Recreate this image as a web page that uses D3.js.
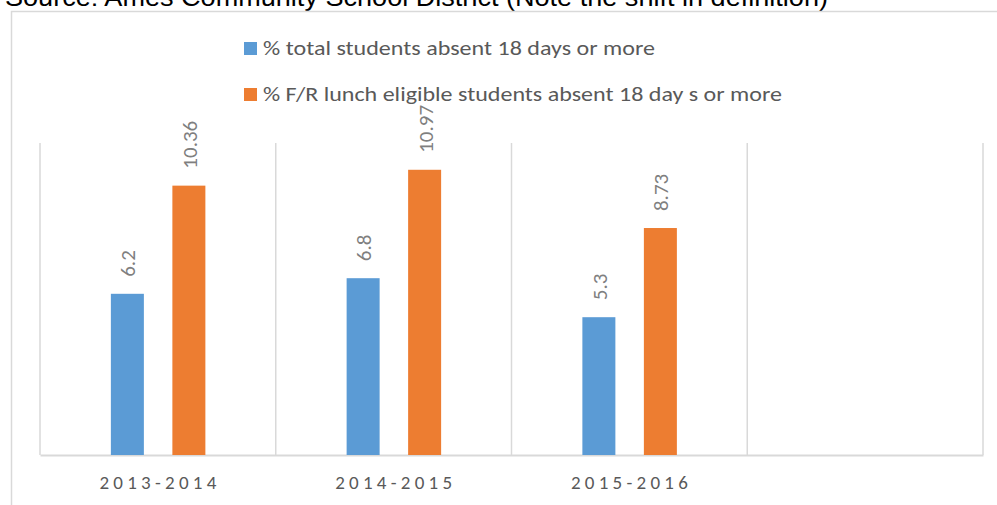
<!DOCTYPE html>
<html>
<head>
<meta charset="utf-8">
<script src="https://cdn.jsdelivr.net/npm/d3@7"></script>
<style>
  body { margin: 0; background: #fff; overflow: hidden; }
  svg { display: block; }
</style>
</head>
<body>
<div id="chart"></div>
<script>
const width = 997;
const height = 505;

// data
const years = ["2013-2014", "2014-2015", "2015-2016", ""];
const seriesNames = [
    "% total students absent 18 days or more",
    "% F/R lunch eligible students absent 18 day s or more"
];
const totalAbsent = [6.2, 6.8, 5.3, null];
const lunchAbsent = [10.36, 10.97, 8.73, null];
const colors = ["#5b9bd5", "#ed7d31"];

const plot = { left: 40, right: 983, top: 143, bottom: 455 };
const bodyFont = "Carlito, Calibri, Lato, sans-serif";

const svg = d3.select("#chart")
    .append("svg")
    .attr("width", width)
    .attr("height", height);

// source line, cut off by the top edge
svg.append("text")
    .attr("x", 5)
    .attr("y", 6)
    .attr("font-family", "Liberation Sans, Arial, sans-serif")
    .attr("font-size", 26)
    .attr("textLength", 823)
    .attr("lengthAdjust", "spacingAndGlyphs")
    .attr("fill", "#000")
    .text("Source: Ames Community School District (Note the shift in definition)");

// chart frame
svg.append("rect")
    .attr("x", 11.5)
    .attr("y", 11.5)
    .attr("width", 1100)
    .attr("height", 600)
    .attr("fill", "none")
    .attr("stroke", "#d9d9d9")
    .attr("stroke-width", 1.5);

const x = d3.scaleBand()
    .domain(d3.range(years.length))
    .range([plot.left, plot.right]);

const y = d3.scaleLinear()
    .domain([0, 12])
    .range([plot.bottom, plot.top]);

// vertical gridlines between categories
const gridX = d3.range(years.length + 1).map(i => plot.left + i * x.step());
svg.append("g")
    .selectAll("line")
    .data(gridX)
    .join("line")
    .attr("x1", d => d)
    .attr("x2", d => d)
    .attr("y1", plot.top)
    .attr("y2", plot.bottom)
    .attr("stroke", "#d9d9d9")
    .attr("stroke-width", 1.5);

// x axis
const xAxis = svg.append("g")
    .attr("transform", "translate(0," + plot.bottom + ")")
    .call(d3.axisBottom(x).tickSize(0).tickFormat(i => years[i]));
xAxis.select(".domain")
    .attr("stroke", "#d9d9d9")
    .attr("stroke-width", 2);
xAxis.selectAll("text")
    .attr("dy", 0)
    .attr("y", 34)
    .attr("font-family", bodyFont)
    .attr("font-size", 19)
    .attr("textLength", d => years[d] ? 117 : null)
    .attr("lengthAdjust", "spacing")
    .attr("fill", "#595959");

const barW = 33;
const offsets = [-30.5, 31];
const series = [totalAbsent, lunchAbsent];

series.forEach(function(values, s) {
    const data = values.map((v, i) => ({ i: i, v: v })).filter(d => d.v != null);
    const g = svg.append("g");
    g.selectAll("rect")
        .data(data)
        .join("rect")
        .attr("x", d => x(d.i) + x.bandwidth() / 2 + offsets[s] - barW / 2)
        .attr("y", d => y(d.v))
        .attr("width", barW)
        .attr("height", d => y(0) - y(d.v))
        .attr("fill", colors[s]);

    g.selectAll("text")
        .data(data)
        .join("text")
        .attr("transform", d => "translate(" + (x(d.i) + x.bandwidth() / 2 + offsets[s] + 8) + "," + (y(d.v) - 17) + ") rotate(-90)")
        .attr("font-family", bodyFont)
        .attr("font-size", 21)
        .attr("fill", "#7f7f7f")
        .text(d => d.v);
});

// legend
const legendLen = [392, 519];
const legend = svg.append("g")
    .selectAll("g")
    .data(seriesNames)
    .join("g")
    .attr("transform", (d, i) => "translate(244," + (42 + i * 46) + ")");
legend.append("rect")
    .attr("width", 13)
    .attr("height", 13)
    .attr("fill", (d, i) => colors[i]);
legend.append("text")
    .attr("x", 19)
    .attr("y", 13)
    .attr("font-family", bodyFont)
    .attr("font-size", 21)
    .attr("textLength", (d, i) => legendLen[i])
    .attr("lengthAdjust", "spacingAndGlyphs")
    .attr("fill", "#595959")
    .text(d => d);
</script>
</body>
</html>
